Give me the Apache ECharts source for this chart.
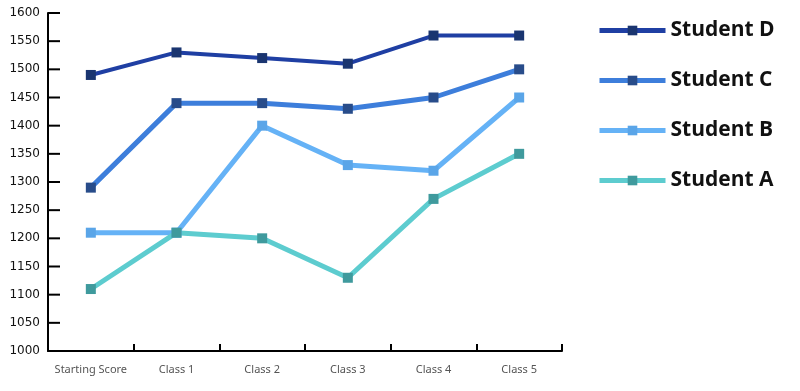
<!DOCTYPE html>
<html>
<head>
<meta charset="utf-8">
<script src="https://cdn.jsdelivr.net/npm/echarts@6/dist/echarts.min.js"></script>
<style>
html,body{margin:0;padding:0;background:#fff;}
#c{width:800px;height:391px;}
</style>
</head>
<body>
<div id="c"></div>
<script>
const categories = ['Starting Score', 'Class 1', 'Class 2', 'Class 3', 'Class 4', 'Class 5'];
const studentD = [1490, 1530, 1520, 1510, 1560, 1560];
const studentC = [1290, 1440, 1440, 1430, 1450, 1500];
const studentB = [1210, 1210, 1400, 1330, 1320, 1450];
const studentA = [1110, 1210, 1200, 1130, 1270, 1350];
const seriesNames = ['Student D', 'Student C', 'Student B', 'Student A'];
const yTicks = [1000, 1050, 1100, 1150, 1200, 1250, 1300, 1350, 1400, 1450, 1500, 1550, 1600];
const yMin = 1000, yMax = 1600, yStep = 50;

const styles = {
  'Student D': {line: '#1f3fa3', marker: '#1a3570', width: 4},
  'Student C': {line: '#3d7edb', marker: '#284c8a', width: 5},
  'Student B': {line: '#65b2f6', marker: '#5aa5e8', width: 5},
  'Student A': {line: '#5dcccf', marker: '#3f9a9d', width: 5}
};
const dataMap = {'Student D': studentD, 'Student C': studentC, 'Student B': studentB, 'Student A': studentA};

const tickLen = 12;

const chart = echarts.init(document.getElementById('c'), null, {renderer: 'canvas'});
const mainSeries = seriesNames.map(n => ({
  name: n,
  type: 'line',
  data: dataMap[n],
  symbol: 'rect',
  symbolSize: 10,
  z: 3,
  lineStyle: {color: styles[n].line, width: styles[n].width},
  itemStyle: {color: styles[n].marker, borderColor: styles[n].marker, borderWidth: 0}
}));

const tickSeries = {
  type: 'custom',
  name: 'yTicks',
  silent: true,
  clip: false,
  z: 2,
  data: yTicks.map(v => [0, v]),
  encode: {x: 0, y: 1},
  renderItem: function (params, api) {
    const y = api.coord([0, api.value(1)])[1];
    const x0 = params.coordSys.x;
    return {
      type: 'line',
      shape: {x1: x0, y1: y, x2: x0 + tickLen, y2: y},
      style: {stroke: '#000', lineWidth: 2}
    };
  }
};

chart.setOption({
  animation: false,
  grid: {left: 48, right: 238, top: 13, bottom: 40},
  legend: {
    orient: 'vertical',
    left: 592,
    top: 15,
    itemWidth: 66,
    itemHeight: 12,
    itemGap: 29,
    data: seriesNames,
    lineStyle: {width: 5},
    textStyle: {fontSize: 21, fontWeight: 'bold', color: '#111', fontFamily: 'Open Sans'}
  },
  xAxis: {
    type: 'category',
    data: categories,
    boundaryGap: true,
    axisLine: {show: true, lineStyle: {color: '#000', width: 2}},
    axisTick: {show: true, inside: true, length: 7, alignWithLabel: false, interval: 0, lineStyle: {color: '#000', width: 2}},
    axisLabel: {color: '#555', fontSize: 11, fontFamily: 'Noto Sans', margin: 13, interval: 0}
  },
  yAxis: {
    type: 'value',
    min: yMin,
    max: yMax,
    interval: yStep,
    splitLine: {show: false},
    axisLine: {show: true, onZero: false, lineStyle: {color: '#000', width: 2}},
    axisTick: {show: false},
    axisLabel: {color: '#111', fontSize: 12, fontFamily: 'DejaVu Sans', margin: 8, formatter: v => String(v)}
  },
  series: mainSeries.concat([tickSeries])
});
</script>
</body>
</html>
